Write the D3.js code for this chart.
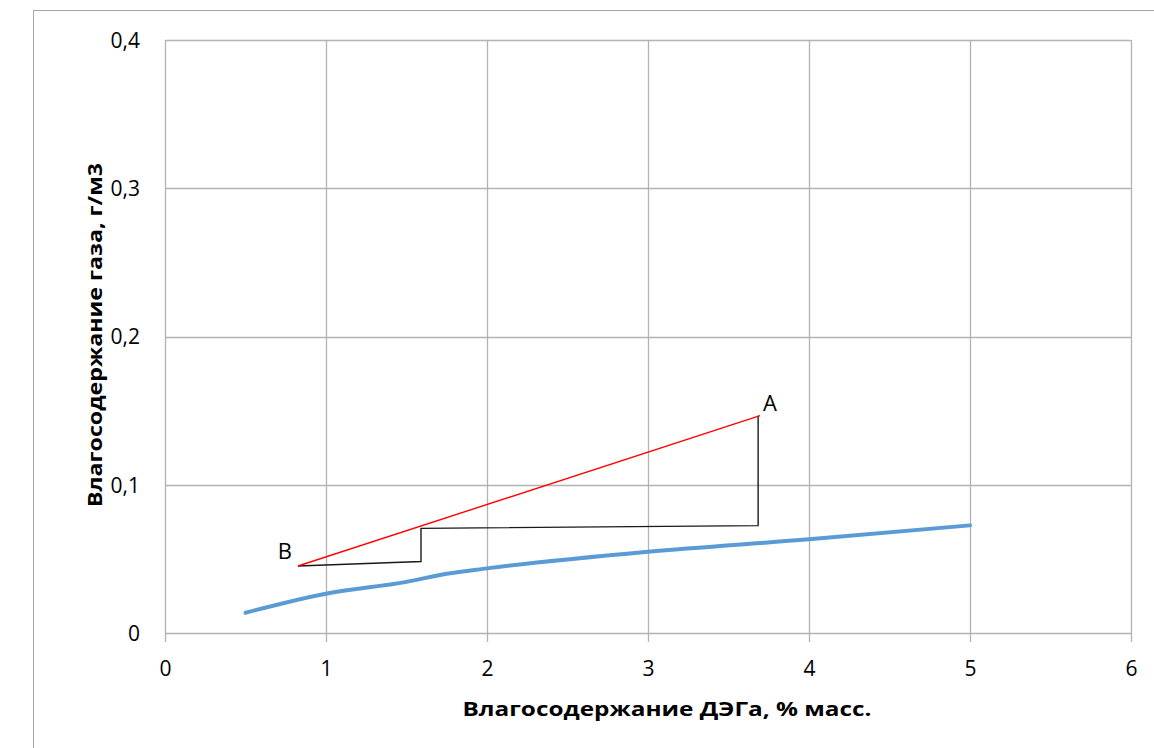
<!DOCTYPE html>
<meta charset="utf-8">
<script src="https://d3js.org/d3.v7.min.js"></script>
<style>
  body { margin: 0; background: #fff; }
  text { font-family: "Open Sans", "Noto Sans", sans-serif; fill: #000; }
</style>
<div id="chart"></div>
<script>
// measured curve: moisture content of DEG (% mass) vs gas (g/m3)
var degX = [0.5, 1, 1.5, 1.75, 2, 3, 4, 5];
var gasY = [0.0137, 0.0265, 0.0345, 0.0400, 0.0436, 0.0548, 0.0632, 0.0726];

// operating line B -> A (red) and the steps (black)
var opX = [0.826, 3.696];
var opY = [0.0452, 0.1466];
var stepX = [0.826, 1.59, 1.59, 3.684, 3.684];
var stepY = [0.0452, 0.0482, 0.0706, 0.0724, 0.1466];

var pointNames = ["B", "A"];
var xTicks = [0, 1, 2, 3, 4, 5, 6];
var yTicks = [0, 0.1, 0.2, 0.3, 0.4];

var W = 1154, H = 748;
var margin = {top: 40, right: 23, bottom: 115, left: 165};
var width = W - margin.left - margin.right,
    height = H - margin.top - margin.bottom;

var svg = d3.select("#chart").append("svg")
    .attr("width", W)
    .attr("height", H);

// chart outer border
svg.append("rect")
    .attr("x", 33.5).attr("y", 10.5)
    .attr("width", W).attr("height", H)
    .attr("fill", "none")
    .attr("stroke", "#a6a6a6");

var g = svg.append("g")
    .attr("transform", "translate(" + margin.left + "," + margin.top + ")");

var x = d3.scaleLinear().domain([0, 6]).range([0, width]);
var y = d3.scaleLinear().domain([0, 0.4]).range([height, 0]);

var fmt = function(d) { return d === 0 ? "0" : d3.format(".1f")(d).replace(".", ","); };

// gridlines
g.append("g").selectAll("line").data(xTicks).enter().append("line")
    .attr("x1", d => Math.round(x(d)) + 0.5).attr("x2", d => Math.round(x(d)) + 0.5)
    .attr("y1", 0).attr("y2", height + 9)
    .attr("stroke", "#b3b3b3").attr("stroke-width", 1.3);
g.append("g").selectAll("line").data(yTicks).enter().append("line")
    .attr("x1", 0).attr("x2", width)
    .attr("y1", d => Math.round(y(d)) + 0.5).attr("y2", d => Math.round(y(d)) + 0.5)
    .attr("stroke", "#b3b3b3").attr("stroke-width", 1.3);

// axis labels
var xAxis = g.append("g")
    .attr("transform", "translate(0," + height + ")")
    .call(d3.axisBottom(x).tickValues(xTicks).tickFormat(d => d).tickSize(0).tickPadding(30));
xAxis.select(".domain").remove();
xAxis.selectAll("text").style("font-size", "21px").attr("dy", "0").attr("y", 43);

var yAxis = g.append("g")
    .call(d3.axisLeft(y).tickValues(yTicks).tickFormat(fmt).tickSize(0).tickPadding(25));
yAxis.select(".domain").remove();
yAxis.selectAll("text").style("font-size", "21px").attr("dy", "0.35em");

// curve
var line = d3.line()
    .x((d, i) => x(degX[i]))
    .y((d, i) => y(gasY[i]))
    .curve(d3.curveMonotoneX);
g.append("path")
    .datum(degX)
    .attr("d", line)
    .attr("fill", "none")
    .attr("stroke", "#5b9bd5")
    .attr("stroke-width", 4)
    .attr("stroke-linecap", "round");

// steps
var stepLine = d3.line().x((d, i) => x(stepX[i])).y((d, i) => y(stepY[i]));
g.append("path")
    .datum(stepX)
    .attr("d", stepLine)
    .attr("fill", "none")
    .attr("stroke", "#1a1a1a")
    .attr("stroke-width", 1.4);

// operating line
var opLine = d3.line().x((d, i) => x(opX[i])).y((d, i) => y(opY[i]));
g.append("path")
    .datum(opX)
    .attr("d", opLine)
    .attr("fill", "none")
    .attr("stroke", "#ff0000")
    .attr("stroke-width", 1.4);

// point names
g.selectAll(".pname").data(pointNames).enter().append("text")
    .attr("class", "pname")
    .attr("x", (d, i) => x(opX[i]) + (i === 0 ? -6 : 3))
    .attr("y", (d, i) => y(opY[i]) + (i === 0 ? -7 : -5))
    .attr("text-anchor", (d, i) => i === 0 ? "end" : "start")
    .style("font-size", "22px")
    .text(d => d);

// titles
svg.append("text")
    .attr("x", 667).attr("y", 716)
    .attr("text-anchor", "middle")
    .attr("textLength", 409).attr("lengthAdjust", "spacingAndGlyphs")
    .style("font-size", "20px").style("font-weight", "bold")
    .text("Влагосодержание ДЭГа, % масс.");

svg.append("text")
    .attr("transform", "translate(102,335) rotate(-90)")
    .attr("text-anchor", "middle")
    .attr("textLength", 344).attr("lengthAdjust", "spacingAndGlyphs")
    .style("font-size", "20px").style("font-weight", "bold")
    .text("Влагосодержание газа, г/м3");
</script>
